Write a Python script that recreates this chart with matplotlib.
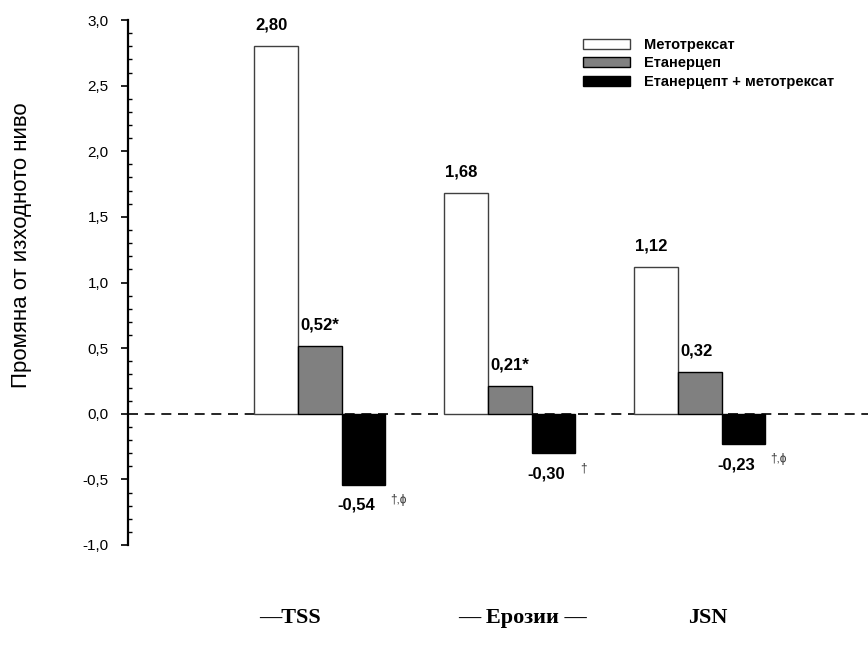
import numpy as np
import matplotlib.pyplot as plt
from matplotlib.ticker import MultipleLocator, FuncFormatter

# data
groups = ["—TSS", "— Ерозии —", "JSN"]
series = ["Метотрексат", "Етанерцеп", "Етанерцепт + метотрексат"]
methotrexate = [2.80, 1.68, 1.12]
etanercept = [0.52, 0.21, 0.32]
combo = [-0.54, -0.30, -0.23]
etan_marks = ["*", "*", ""]
combo_marks = ["†,ϕ", "†", "†,ϕ"]

plt.rcParams['font.family'] = ['Liberation Sans', 'DejaVu Sans']

fig = plt.figure(figsize=(8.68, 6.63), dpi=100)
ax = fig.add_axes([128 / 868, 1 - 545 / 663, 740 / 868, 525 / 663])

x = np.arange(len(groups))
w = 0.229
b1 = ax.bar(x - w, methotrexate, w, align='edge', color='white', edgecolor='#404040', linewidth=1)
b2 = ax.bar(x, etanercept, w, align='edge', color='#808080', edgecolor='black', linewidth=1)
b3 = ax.bar(x + w, combo, w, align='edge', color='black', edgecolor='black', linewidth=1)

ax.axhline(0, color='black', linestyle=(0, (6, 4)), linewidth=1.2, zorder=0)

# value labels
def fmt(v):
    return f"{v:.2f}".replace(".", ",")

for i in range(len(groups)):
    ax.annotate(fmt(methotrexate[i]), (x[i] - w, methotrexate[i]), xytext=(0.5, 15),
                textcoords='offset points', ha='left', va='center', fontsize=12, fontweight='bold')
    ax.annotate(fmt(etanercept[i]) + etan_marks[i], (x[i], etanercept[i]), xytext=(2, 15),
                textcoords='offset points', ha='left', va='center', fontsize=12, fontweight='bold')
    ax.annotate(fmt(combo[i]), (x[i] + w, combo[i]), xytext=(-3, -15),
                textcoords='offset points', ha='left', va='center', fontsize=12, fontweight='bold')
    ax.annotate(combo_marks[i], (x[i] + w, combo[i]), xytext=(35, -11),
                textcoords='offset points', ha='left', va='center', fontsize=8.5, color='#333333')

ax.set_xlim(-170 / 190, -170 / 190 + 740 / 190)
ax.set_ylim(-1.0, 3.0)
ax.yaxis.set_major_locator(MultipleLocator(0.5))
ax.yaxis.set_minor_locator(MultipleLocator(0.1))
ax.yaxis.set_major_formatter(FuncFormatter(lambda v, p: f"{v:.1f}".replace(".", ",")))
ax.tick_params(axis='y', which='major', direction='out', length=5, width=1.2, labelsize=11, pad=9)
ax.tick_params(axis='y', which='minor', direction='in', length=3, width=1)
ax.set_xticks([])
for s in ['top', 'right', 'bottom']:
    ax.spines[s].set_visible(False)
ax.spines['left'].set_linewidth(1.6)

fig.text(22 / 868, 1 - 245 / 663, "Промяна от изходното ниво", rotation=90,
         ha='center', va='center', fontsize=16)

ax.legend([b1, b2, b3], series, loc='upper left', bbox_to_anchor=(570 / 868, 1 - 25 / 663),
          bbox_transform=fig.transFigure, frameon=False, handlelength=3.2, handleheight=0.7,
          labelspacing=0.3, handletextpad=1.0, prop={'weight': 'bold', 'size': 10.5})

label_x = [290, 522, 708]
for lx, g in zip(label_x, groups):
    fig.text(lx / 868, 1 - 618 / 663, g, ha='center', va='center', fontsize=16,
             fontweight='bold', family='Liberation Serif')

fig.savefig("out.png", dpi=100)
